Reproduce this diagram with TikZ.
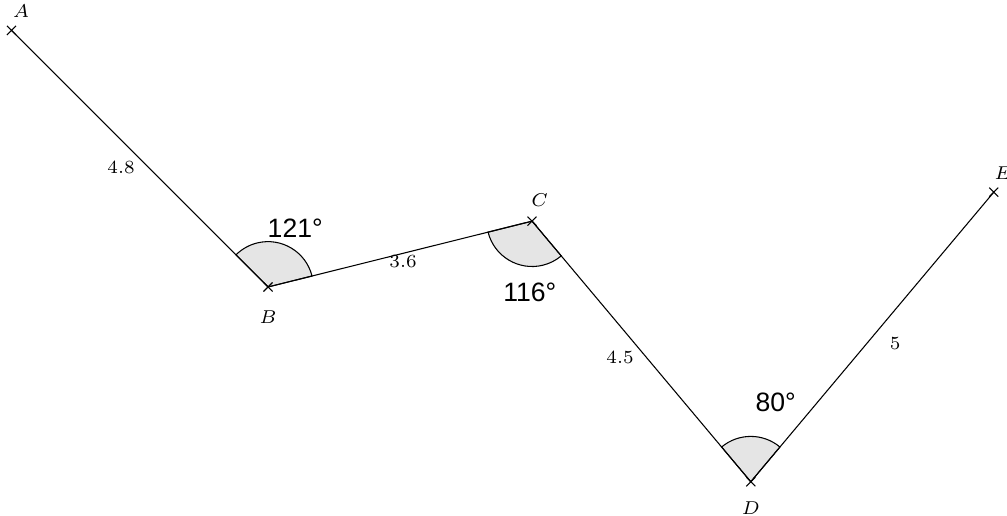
\documentclass[tikz,border=0pt]{standalone}
\usepackage{fontspec}
\newfontfamily\anglefont{Liberation Sans}
\usetikzlibrary{calc,shapes.misc}
\begin{document}
\begin{tikzpicture}[baseline=0,
    ptmark/.style={draw=black, cross out, minimum size=3pt, inner sep=0pt},
    ptlabel/.style={font=\scriptsize},
    seglabel/.style={font=\scriptsize},
    anglearc/.style={draw=black, fill=gray!20},
    anglelabel/.style={font=\anglefont\normalsize}]
      \useasboundingbox (-3.545,-3.016) rectangle (9.775,3.796);

      \coordinate (B) at (0,0);
      \coordinate (A) at (135:4.8);
      \coordinate (C) at (14:3.6);
      \coordinate (D) at ($(C)+(-50:4.5)$);
      \coordinate (E) at ($(D)+(50:5)$);

      % angle sectors
      \draw [anglearc] (B) -- ++(14:0.6) arc [start angle=14, end angle=135, radius=0.6] -- cycle;
      \draw [anglearc] (C) -- ++(194:0.6) arc [start angle=194, end angle=310, radius=0.6] -- cycle;
      \draw [anglearc] (D) -- ++(50:0.6) arc [start angle=50, end angle=130, radius=0.6] -- cycle;

      \draw (A) -- (B) -- (C) -- (D) -- (E);

      \foreach \p in {A,B,C,D,E}
        \node [ptmark, name=x\p] at (\p) {};

      \node [ptlabel, name=lA] at ($(A)+(0.13,0.26)$) {$A$};
      \node [ptlabel, name=lB] at ($(B)+(0,-0.40)$) {$B$};
      \node [ptlabel, name=lC] at ($(C)+(0.10,0.28)$) {$C$};
      \node [ptlabel, name=lD] at ($(D)+(0,-0.35)$) {$D$};
      \node [ptlabel, name=lE] at ($(E)+(0.12,0.25)$) {$E$};

      \node [seglabel, name=sAB] at (-1.944,1.587) {4.8};
      \node [seglabel, name=sBC] at (1.786,0.331) {3.6};
      \node [seglabel, name=sCD] at (4.656,-0.926) {4.5};
      \node [seglabel, name=sDE] at (8.294,-0.741) {5};

      \node [anglelabel, name=aB] at ($(B)+(0.36,0.78)$) {121°};
      \node [anglelabel, name=aC] at ($(C)+(-0.03,-0.94)$) {116°};
      \node [anglelabel, name=aD] at ($(D)+(0.33,1.05)$) {80°};
    \end{tikzpicture}
\end{document}
